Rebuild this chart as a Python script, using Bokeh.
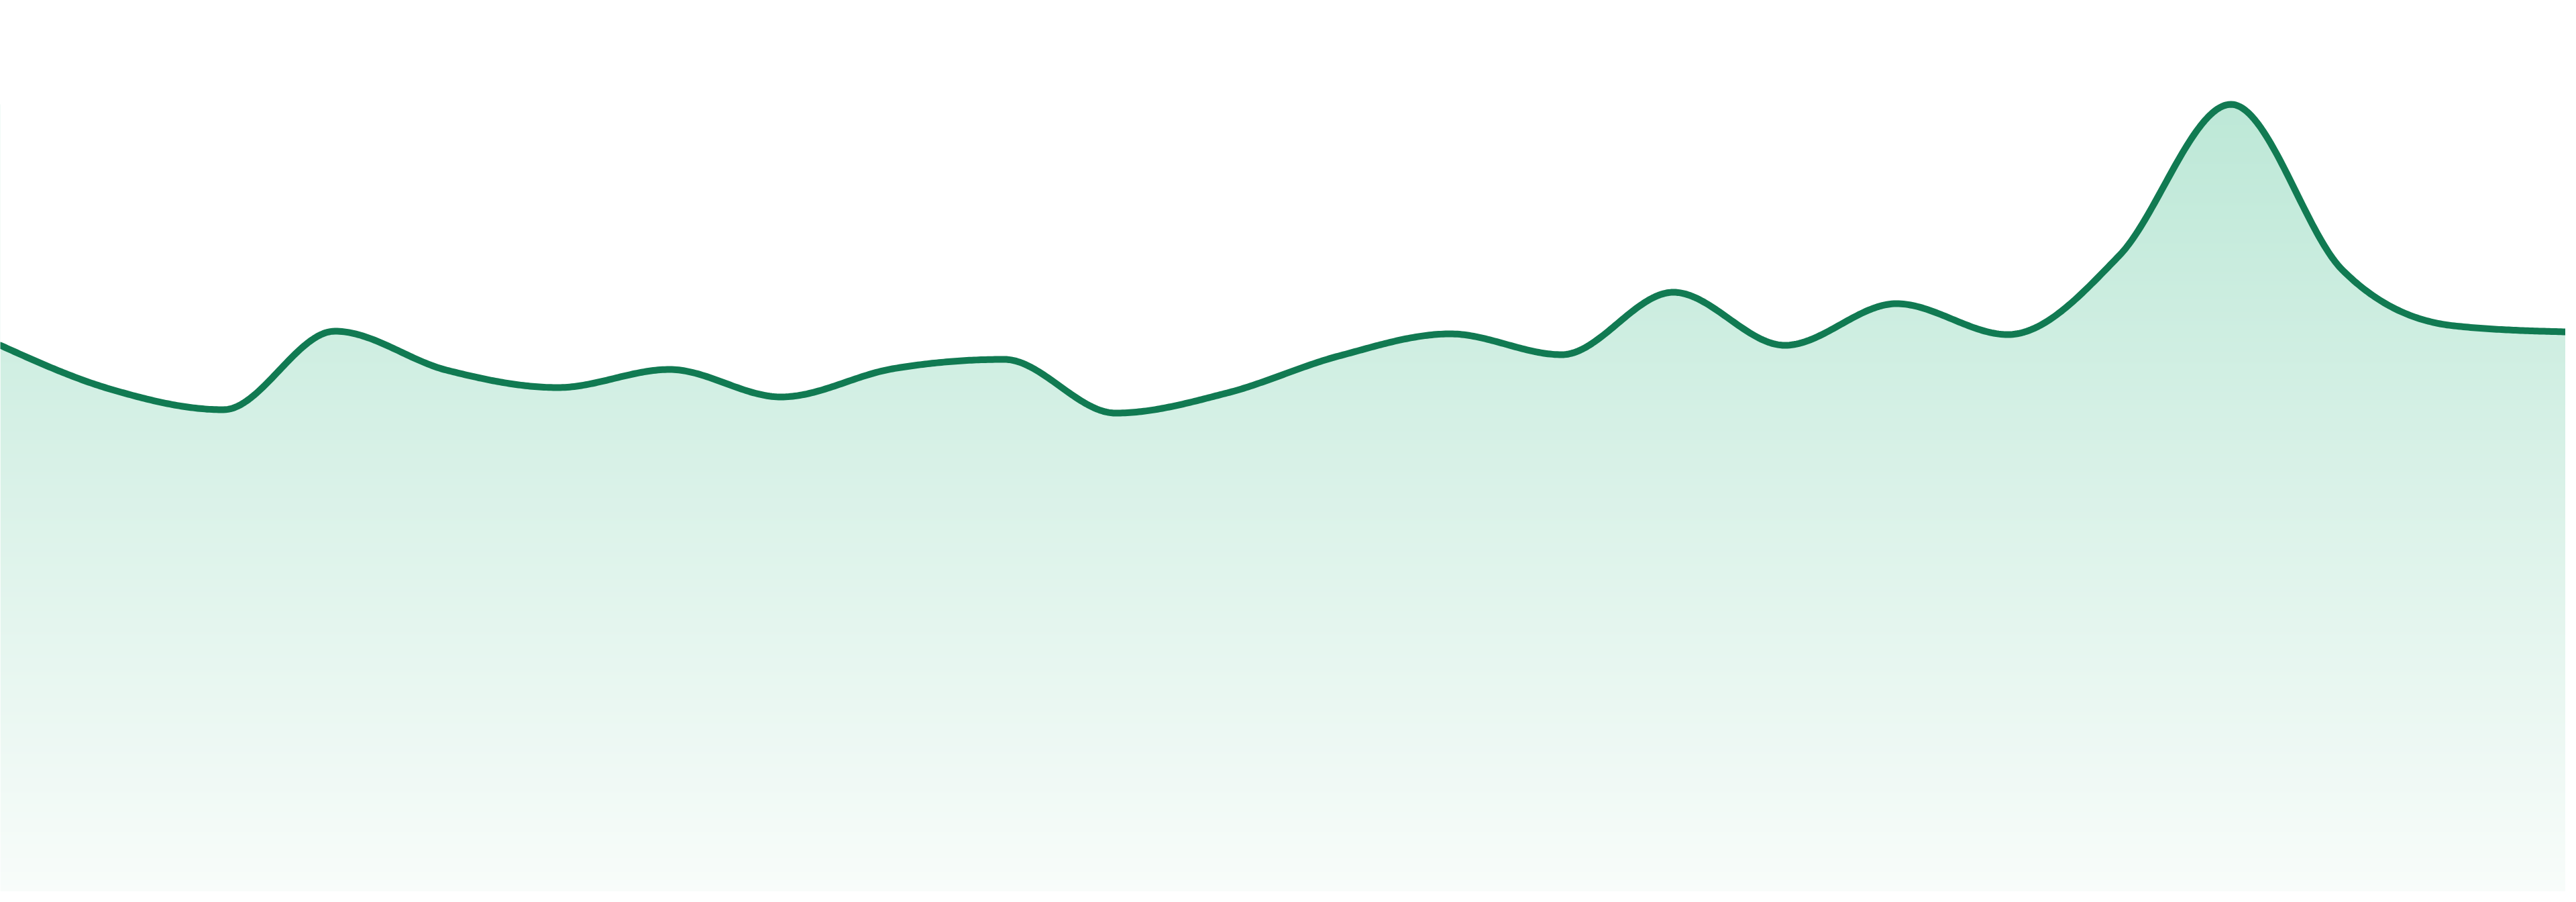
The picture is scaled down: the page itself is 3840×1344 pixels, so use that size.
import numpy as np
from bokeh.plotting import figure
from bokeh.models import Range1d
from bokeh.embed import file_html
from bokeh.resources import INLINE

# ---- data ----
x_idx = list(range(24))
values = [82.2, 75.6, 72.6, 84.3, 78.5, 75.9, 78.6, 74.5, 78.7, 80.1, 72.1, 75.1,
          80.6, 83.9, 80.8, 90.1, 82.2, 88.4, 83.8, 95.6, 118.1, 93.4, 85.1, 84.2]

# ---- style ----
line_color = "#117a52"
fill_top_rgb = (189, 232, 215)
fill_bottom_rgb = (248, 252, 250)
y_lo, y_hi = 0.8, 133.6


def monotone_tangents(x, y):
    """Tangents of a monotone-x cubic curve (same rule as d3.curveMonotoneX)."""
    x = np.asarray(x, float)
    y = np.asarray(y, float)
    n = len(x)
    t = np.zeros(n)
    for i in range(1, n - 1):
        h0 = x[i] - x[i - 1]
        h1 = x[i + 1] - x[i]
        s0 = (y[i] - y[i - 1]) / h0
        s1 = (y[i + 1] - y[i]) / h1
        p = (s0 * h1 + s1 * h0) / (h0 + h1)
        t[i] = (np.sign(s0) + np.sign(s1)) * min(abs(s0), abs(s1), 0.5 * abs(p))
    h = x[1] - x[0]
    t[0] = (3 * (y[1] - y[0]) / h - t[1]) / 2
    h = x[-1] - x[-2]
    t[-1] = (3 * (y[-1] - y[-2]) / h - t[-2]) / 2
    return x, y, t


def curve_path(x, y, steps=48):
    x, y, t = monotone_tangents(x, y)
    xs, ys = [], []
    for i in range(len(x) - 1):
        dx = (x[i + 1] - x[i]) / 3.0
        p0 = np.array([x[i], y[i]])
        p1 = np.array([x[i] + dx, y[i] + dx * t[i]])
        p2 = np.array([x[i + 1] - dx, y[i + 1] - dx * t[i + 1]])
        p3 = np.array([x[i + 1], y[i + 1]])
        u = np.linspace(0, 1, steps, endpoint=(i == len(x) - 2))
        pts = ((1 - u) ** 3)[:, None] * p0 + (3 * (1 - u) ** 2 * u)[:, None] * p1 \
            + (3 * (1 - u) * u ** 2)[:, None] * p2 + (u ** 3)[:, None] * p3
        xs.extend(pts[:, 0])
        ys.extend(pts[:, 1])
    return np.array(xs), np.array(ys)


cx, cy = curve_path(x_idx, values)

p = figure(width=3824, height=1328, output_backend="svg", toolbar_location=None,
           x_axis_location=None, y_axis_location=None, min_border=0,
           x_range=Range1d(x_idx[0], x_idx[-1]), y_range=Range1d(y_lo, y_hi))
p.grid.visible = False
p.outline_line_color = None
p.background_fill_color = "white"
p.border_fill_color = "white"

# vertical gradient (from the top of the series down to the bottom)
n_rows = 512
frac = np.linspace(0.0, 1.0, n_rows)
top = np.array(fill_top_rgb, float)
bot = np.array(fill_bottom_rgb, float)
cols = np.round(bot + (top - bot) * frac[:, None]).astype(np.uint8)
img = np.empty((n_rows, 2), dtype=np.uint32)
view = img.view(dtype=np.uint8).reshape((n_rows, 2, 4))
for c in range(2):
    view[:, c, 0] = cols[:, 0]
    view[:, c, 1] = cols[:, 1]
    view[:, c, 2] = cols[:, 2]
    view[:, c, 3] = 255
peak = max(values)
p.image_rgba(image=[img], x=x_idx[0], y=y_lo, dw=x_idx[-1] - x_idx[0], dh=peak - y_lo)

# white mask above the curve
p.varea(x=cx, y1=cy, y2=y_hi, fill_color="white", fill_alpha=1.0)

# the line
p.line(cx, cy, line_color=line_color, line_width=10, line_join="round", line_cap="round")

open("out.html", "w").write(file_html(p, INLINE))
